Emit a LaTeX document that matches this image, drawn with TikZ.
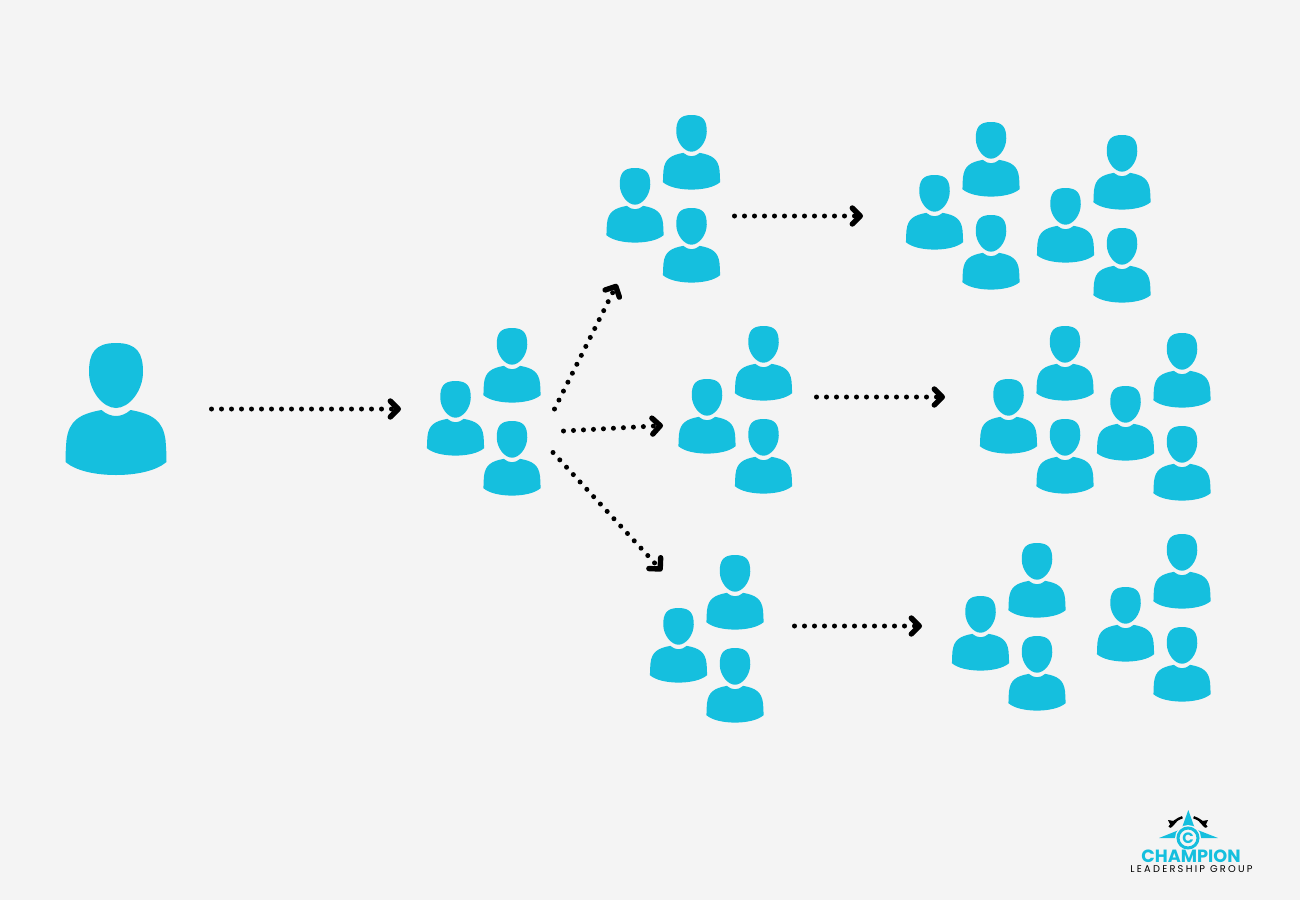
\documentclass[tikz,border=0pt]{standalone}
\usepackage{fontspec}
\setmainfont{Poppins}
\usetikzlibrary{arrows.meta}
\definecolor{bgc}{HTML}{F4F4F4}
\definecolor{teal}{HTML}{15BFDE}
\tikzset{
  person/.pic={
    \fill[teal] (0,0) .. controls (21,0) and (27,10) .. (27,29) .. controls (27,48) and (13,65) .. (0,65)
      .. controls (-13,65) and (-27,48) .. (-27,29) .. controls (-27,10) and (-21,0) .. (0,0) -- cycle;
    \fill[teal] (-14.5,67) .. controls (-10,71) and (-5,73) .. (0,73) .. controls (5,73) and (10,71) .. (14.5,67)
      .. controls (37,71) and (47,78) .. (49.5,97) .. controls (50.2,105) and (50.5,112) .. (50.5,119)
      .. controls (40,128) and (20,132) .. (0,132) .. controls (-20,132) and (-40,128) .. (-50.5,119)
      .. controls (-50.5,112) and (-50.2,105) .. (-49.5,97) .. controls (-47,78) and (-37,71) .. (-14.5,67) -- cycle;
  },
  trio/.pic={
    \pic[scale=.565] at (0,0) {person};
    \pic[scale=.565] at (-56.5,53) {person};
    \pic[scale=.565] at (0,93) {person};
  },
  flow/.style={draw=black,line width=5pt,line cap=round,dash pattern=on 0pt off 10pt,
    -{Straight Barb[length=8pt,width=16pt,line width=5.4pt,round]}},
  logotext/.style={inner sep=0pt,anchor=base,text depth=0pt},
}
\begin{document}
\begin{tikzpicture}[x=1pt,y=-1pt]
\fill[bgc] (0,0) rectangle (1300,900);
\useasboundingbox (0,0) rectangle (1300,900);
\pic at (116,343) {person};
\foreach \px/\py in {512/328, 691.5/115, 763.5/326, 735/555, 991/122, 1122/135, 1065/326, 1182/333, 1037/543, 1182/534}
  \pic at (\px,\py) {trio};
\coordinate (a1) at (211.5,409); \coordinate (a2) at (401,409);
\coordinate (b1) at (554.5,409); \coordinate (b2) at (617,284);
\coordinate (c1) at (563.5,431); \coordinate (c2) at (663,425.5);
\coordinate (d1) at (553,452.5); \coordinate (d2) at (662,571);
\coordinate (e1) at (734.5,216); \coordinate (e2) at (863,216);
\coordinate (f1) at (816.5,397); \coordinate (f2) at (945,397);
\coordinate (g1) at (794.5,626); \coordinate (g2) at (922,626);
\foreach \s/\t in {a1/a2,b1/b2,c1/c2,d1/d2,e1/e2,f1/f2,g1/g2}
  \draw[flow] (\s) -- (\t);
% logo
\coordinate (lc) at (1188,838);
\draw[black,line width=2.4pt] (1169.4,827.2) .. controls (1172.5,822.5) and (1177,819) .. (1182.4,817.2);
\draw[black,line width=2.4pt] (1206.6,827.2) .. controls (1203.5,822.5) and (1199,819) .. (1193.6,817.2);
\fill[black] (1168,820) -- (1177,821.5) -- (1171.5,827.5) -- cycle;
\fill[black] (1208,820) -- (1199,821.5) -- (1204.5,827.5) -- cycle;
\fill[teal] (1188.3,810) -- (1195,829) -- (1218,838) -- (1159,838) -- (1181.5,829) -- cycle;
\fill[bgc] (lc) circle[radius=13];
\draw[teal,line width=3pt] (lc) circle[radius=10];
\node[logotext,text height=10pt,text=teal] (logoc) at (1188,843.5) {\fontsize{15}{15}\selectfont\bfseries C};
\node[logotext,text height=13pt,text=teal] (champ) at (1191,862) {\fontsize{17.7}{18}\selectfont\bfseries CHAMPION};
\node[logotext,text height=7pt,text=black] (lead) at (1191.5,872) {\fontsize{9.8}{10}\selectfont\addfontfeatures{LetterSpace=23}LEADERSHIP GROUP};
\end{tikzpicture}
\end{document}
